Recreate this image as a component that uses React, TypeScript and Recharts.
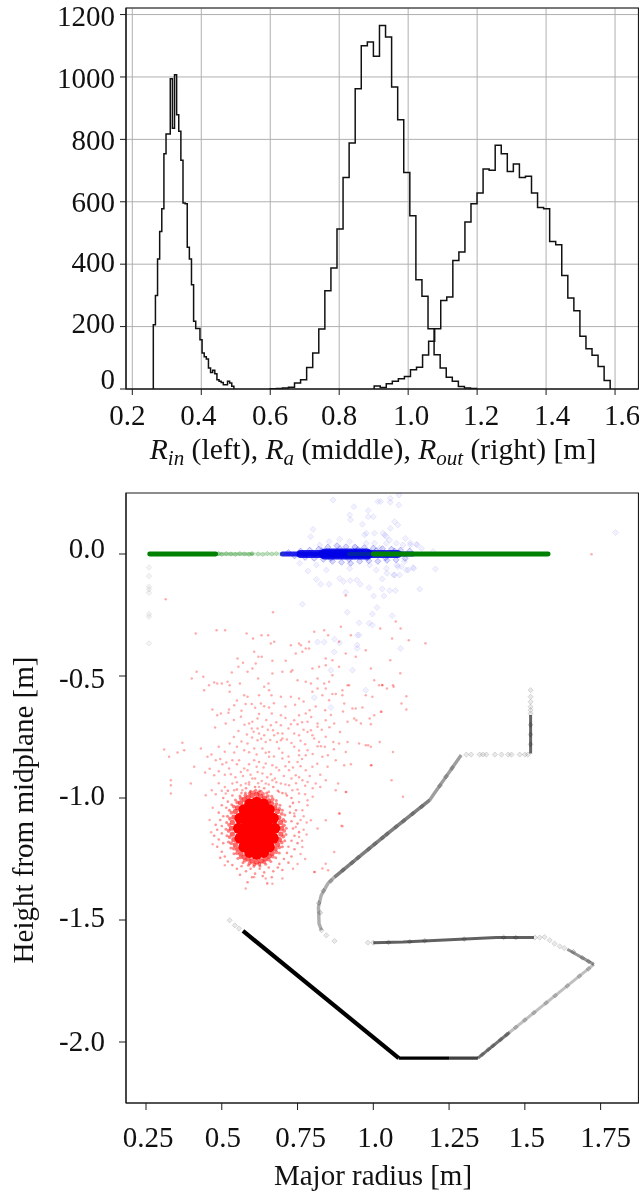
import React from "react";
import {
  CartesianGrid,
  Label,
  Line,
  LineChart,
  ReferenceArea,
  Scatter,
  ScatterChart,
  XAxis,
  YAxis,
} from "recharts";

type Pair = [number, number];

// ─── Histogram data (counts) ──────────────────────────────────────────────────

const rinStart = 0.2609;
const rinBin = 0.00615;
const rinCounts = [
  206, 300, 417, 505, 578, 754, 817, 817, 994, 836, 1007, 879, 826, 733, 596, 594, 454, 417, 334,
  217, 194, 194, 158, 115, 103, 96, 67, 53, 60, 49, 30, 25, 21, 14, 14, 25, 19, 9,
];

const raStart = 0.6;
const raBin = 0.0176;
const raCounts = [
  1, 2, 3, 6, 19, 30, 69, 115, 192, 315, 388, 513, 678, 788, 962, 1100, 1112, 1066, 1165, 1128, 968,
  863, 694, 555, 350, 297, 193, 110, 67, 38, 25, 8, 3, 2,
];

const routStart = 0.9014;
const routBin = 0.01755;
const routCounts = [
  10, 5, 17, 25, 33, 40, 62, 70, 109, 153, 193, 284, 295, 412, 439, 535, 594, 628, 705, 701, 781,
  754, 697, 721, 678, 682, 628, 582, 578, 473, 462, 364, 292, 251, 169, 129, 108, 72, 27,
];

const histXTicks = [0.2, 0.4, 0.6, 0.8, 1.0, 1.2, 1.4, 1.6];
const histYTicks = [0, 200, 400, 600, 800, 1000, 1200];

// ─── Scatter data (major radius, height) ──────────────────────────────────────

const redSparse: Pair[] = [
  [0.414, -0.326], [0.483, -0.312], [0.511, -0.312], [0.582, -0.326], [0.603, -0.346], [0.631, -0.333],
  [0.653, -0.333], [0.662, -0.367], [0.673, -0.36], [0.728, -0.374], [0.755, -0.367], [0.761, -0.374],
  [0.788, -0.36], [0.805, -0.319], [0.838, -0.312], [0.851, -0.333], [0.893, -0.298], [0.887, -0.36],
  [0.926, -0.333], [0.777, -0.387], [0.788, -0.387], [0.766, -0.401], [0.744, -0.408], [0.607, -0.401],
  [0.621, -0.421], [0.632, -0.421], [0.552, -0.428], [0.57, -0.446], [0.612, -0.449], [0.667, -0.438],
  [0.711, -0.438], [0.843, -0.428], [0.865, -0.435], [0.909, -0.408], [0.942, -0.421], [0.975, -0.394],
  [0.992, -0.469], [0.417, -0.483], [0.401, -0.51], [0.439, -0.503], [0.533, -0.486], [0.555, -0.462],
  [0.585, -0.483], [0.601, -0.469], [0.62, -0.51], [0.667, -0.49], [0.7, -0.483], [0.728, -0.483],
  [0.733, -0.476], [0.75, -0.517], [0.799, -0.469], [0.821, -0.462], [0.843, -0.456], [0.865, -0.497],
  [0.887, -0.462], [0.816, -0.51], [0.838, -0.531], [0.854, -0.524], [1.003, -0.517], [0.915, -0.538],
  [0.475, -0.527], [0.485, -0.531], [0.5, -0.531], [0.519, -0.524], [0.526, -0.538], [0.56, -0.531],
  [0.654, -0.531], [0.64, -0.544], [0.777, -0.524], [0.794, -0.531], [0.442, -0.558], [0.458, -0.538],
  [0.526, -0.565], [0.574, -0.579], [0.585, -0.585], [0.623, -0.579], [0.656, -0.558], [0.664, -0.579],
  [0.695, -0.585], [0.728, -0.585], [0.755, -0.592], [0.816, -0.551], [0.799, -0.565], [0.832, -0.579],
  [0.854, -0.599], [0.865, -0.574], [0.876, -0.574], [0.898, -0.579], [0.904, -0.613], [0.92, -0.538],
  [0.975, -0.579], [0.997, -0.585], [1.019, -0.538], [1.03, -0.538], [0.579, -0.615], [0.599, -0.615],
  [0.629, -0.613], [0.64, -0.624], [0.656, -0.629], [0.898, -0.558], [0.843, -0.551], [0.469, -0.637],
  [0.524, -0.637], [0.541, -0.62], [0.485, -0.661], [0.497, -0.654], [0.522, -0.651], [0.563, -0.667],
  [0.623, -0.656], [0.665, -0.654], [0.695, -0.661], [0.755, -0.661], [0.777, -0.654], [0.739, -0.681],
  [0.841, -0.64], [0.931, -0.633], [0.942, -0.633], [0.964, -0.629], [1.003, -0.661], [1.025, -0.647],
  [0.937, -0.674], [0.618, -0.674], [0.601, -0.688], [0.59, -0.695], [0.513, -0.695], [0.728, -0.698],
  [0.75, -0.698], [0.783, -0.688], [0.816, -0.695], [0.843, -0.681], [0.871, -0.695], [0.915, -0.688],
  [0.959, -0.695], [0.992, -0.698], [0.478, -0.711], [0.599, -0.715], [0.618, -0.715], [0.634, -0.708],
  [0.662, -0.702], [0.695, -0.702], [0.669, -0.722], [0.623, -0.736], [0.64, -0.743], [0.673, -0.743],
  [0.7, -0.736], [0.7, -0.756], [0.695, -0.763], [0.739, -0.736], [0.755, -0.743], [0.783, -0.729],
  [0.794, -0.722], [0.816, -0.708], [0.799, -0.743], [0.805, -0.756], [0.821, -0.77], [0.843, -0.749],
  [0.868, -0.77], [0.887, -0.777], [0.915, -0.77], [0.909, -0.811], [0.953, -0.777], [0.975, -0.784],
  [0.992, -0.79], [0.645, -0.77], [0.618, -0.763], [0.585, -0.777], [0.526, -0.777], [0.37, -0.774],
  [0.31, -0.801], [0.376, -0.804], [0.354, -0.814], [0.431, -0.797], [0.326, -0.831], [0.466, -0.822],
  [0.453, -0.831], [0.541, -0.814], [0.574, -0.804], [0.607, -0.797], [0.634, -0.797], [0.656, -0.811],
  [0.689, -0.797], [0.739, -0.79], [0.783, -0.804], [0.816, -0.788], [0.827, -0.788], [0.409, -0.872],
  [0.445, -0.896], [0.48, -0.845], [0.502, -0.862], [0.535, -0.845], [0.524, -0.879], [0.557, -0.845],
  [0.574, -0.879], [0.585, -0.886], [0.563, -0.893], [0.607, -0.845], [0.623, -0.852], [0.645, -0.859],
  [0.656, -0.831], [0.667, -0.866], [0.7, -0.838], [0.722, -0.852], [0.75, -0.852], [0.777, -0.825],
  [0.799, -0.872], [0.832, -0.831], [0.849, -0.872], [0.876, -0.845], [0.904, -0.866], [0.926, -0.862],
  [0.992, -0.866], [0.475, -0.907], [0.53, -0.903], [0.618, -0.893], [0.634, -0.9], [0.662, -0.903],
  [0.689, -0.886], [0.722, -0.886], [0.744, -0.907], [0.777, -0.886], [0.755, -0.825], [0.332, -0.927],
  [0.332, -0.948], [0.332, -0.982], [0.398, -0.941], [0.447, -0.989], [0.467, -0.968], [0.535, -0.941],
  [0.563, -0.948], [0.579, -0.941], [0.601, -0.92], [0.623, -0.955], [0.645, -0.941], [0.667, -0.927],
  [0.695, -0.941], [0.722, -0.948], [0.766, -0.927], [0.783, -0.934], [0.81, -0.941], [0.843, -0.927],
  [0.876, -0.968], [0.909, -0.975], [0.733, -0.968], [0.755, -0.982], [0.513, -0.982], [0.541, -0.968],
  [0.568, -0.968], [0.689, -0.975], [0.711, -0.982], [0.755, -1.016], [0.783, -1.009], [0.766, -1.05],
  [0.739, -1.064], [0.794, -1.091], [0.843, -1.091], [0.887, -1.064], [0.898, -1.116], [0.816, -1.125],
  [0.783, -1.03], [0.871, -1.221], [0.843, -1.269], [0.805, -1.303], [0.832, -1.289], [0.766, -1.201],
  [0.755, -1.16], [0.744, -1.119], [0.579, -1.371], [0.645, -1.33], [0.7, -1.33], [0.51, -1.276],
  [0.607, -1.324], [0.667, -1.351], [0.315, -0.185], [0.909, -0.17], [0.669, -0.239], [1.074, -0.277],
  [1.023, -0.305], [1.09, -0.305], [1.72, -0.001], [1.062, -0.346], [1.117, -0.353], [1.172, -0.366],
  [1.056, -0.435], [1.089, -0.489], [1.029, -0.537], [1.045, -0.551], [1.067, -0.544], [1.109, -0.583],
  [1.093, -0.613], [1.109, -0.637], [1.065, -0.538], [1.027, -0.647], [0.988, -0.674], [0.944, -0.681],
  [0.983, -0.784], [1.021, -0.77], [1.065, -0.811], [0.994, -0.866], [0.884, -0.941], [0.911, -0.975],
  [1.098, -0.995], [1.06, -0.927], [0.895, -1.114], [0.889, -1.064], [0.851, -1.296], [0.807, -1.303],
];

// the busier zone straight above the blob
const redMiddle: Pair[] = [
  [0.55, -0.6], [0.565, -0.642], [0.61, -0.63], [0.672, -0.612], [0.71, -0.625], [0.742, -0.618],
  [0.77, -0.605], [0.79, -0.64], [0.81, -0.625], [0.54, -0.68], [0.575, -0.7], [0.647, -0.68],
  [0.68, -0.69], [0.71, -0.672], [0.765, -0.69], [0.795, -0.668], [0.86, -0.66], [0.9, -0.645],
  [0.555, -0.725], [0.583, -0.74], [0.605, -0.728], [0.652, -0.72], [0.685, -0.735], [0.72, -0.715],
  [0.77, -0.72], [0.83, -0.72], [0.855, -0.71], [0.89, -0.73], [0.54, -0.75], [0.565, -0.768],
  [0.6, -0.752], [0.63, -0.757], [0.66, -0.762], [0.682, -0.77], [0.715, -0.76], [0.73, -0.775],
  [0.76, -0.765], [0.775, -0.78], [0.84, -0.79], [0.87, -0.8], [0.49, -0.79], [0.51, -0.81],
  [0.55, -0.79], [0.59, -0.812], [0.615, -0.822], [0.645, -0.815], [0.672, -0.83], [0.7, -0.815],
  [0.72, -0.83], [0.755, -0.805], [0.765, -0.84], [0.8, -0.82], [0.85, -0.825], [0.495, -0.84],
  [0.515, -0.855], [0.55, -0.862], [0.59, -0.862], [0.615, -0.872], [0.638, -0.875], [0.68, -0.875],
  [0.71, -0.87], [0.735, -0.875], [0.76, -0.87], [0.815, -0.86], [0.46, -0.88], [0.49, -0.89],
  [0.51, -0.905], [0.545, -0.915], [0.57, -0.91], [0.595, -0.905], [0.61, -0.92], [0.65, -0.915],
  [0.675, -0.92], [0.705, -0.91], [0.73, -0.92], [0.755, -0.915], [0.79, -0.91], [0.825, -0.905],
  [0.49, -0.94], [0.51, -0.955], [0.55, -0.935], [0.59, -0.945], [0.632, -0.93], [0.655, -0.945],
  [0.71, -0.945], [0.745, -0.94], [0.775, -0.95], [0.8, -0.96], [0.825, -0.955], [0.48, -0.985],
  [0.5, -0.97], [0.59, -0.935], [0.62, -0.94], [0.68, -0.935], [0.75, -0.965], [0.775, -0.985],
  [0.8, -0.995], [0.77, -1.075], [0.78, -1.1], [0.76, -1.09], [0.77, -1.13], [0.765, -1.175],
  [0.78, -1.15], [0.76, -1.23], [0.775, -1.25], [0.75, -1.27], [0.735, -1.29], [0.47, -1.04],
  [0.46, -1.09], [0.465, -1.14], [0.47, -1.19],
];

const redHalo: Pair[] = [
  [0.52, -0.97], [0.535, -0.99], [0.55, -0.965], [0.565, -0.98], [0.58, -0.96], [0.595, -0.975],
  [0.61, -0.955], [0.625, -0.97], [0.64, -0.96], [0.655, -0.975], [0.67, -0.955], [0.685, -0.97],
  [0.7, -0.98], [0.715, -0.99], [0.73, -1.0], [0.505, -1.0], [0.52, -1.015], [0.5, -1.03],
  [0.515, -1.04], [0.735, -1.02], [0.725, -1.035], [0.745, -1.05], [0.49, -1.06], [0.505, -1.075],
  [0.495, -1.09], [0.48, -1.11], [0.5, -1.115], [0.485, -1.13], [0.5, -1.145], [0.475, -1.155],
  [0.49, -1.17], [0.505, -1.185], [0.485, -1.2], [0.5, -1.22], [0.51, -1.24], [0.495, -1.245],
  [0.52, -1.26], [0.725, -1.06], [0.74, -1.075], [0.73, -1.095], [0.75, -1.105], [0.735, -1.125],
  [0.755, -1.14], [0.74, -1.155], [0.73, -1.175], [0.75, -1.185], [0.72, -1.2], [0.74, -1.21],
  [0.715, -1.225], [0.73, -1.24], [0.705, -1.25], [0.72, -1.265], [0.69, -1.27], [0.535, -1.275],
  [0.55, -1.29], [0.565, -1.28], [0.58, -1.3], [0.595, -1.29], [0.61, -1.31], [0.625, -1.29],
  [0.64, -1.305], [0.655, -1.285], [0.67, -1.3], [0.685, -1.285], [0.7, -1.295], [0.56, -1.315],
  [0.6, -1.325], [0.635, -1.32], [0.665, -1.325], [0.585, -1.345], [0.65, -1.35],
];

const redRingOuter: Pair[] = [
  [0.713, -1.124], [0.71, -1.096], [0.708, -1.07], [0.7, -1.05], [0.692, -1.03], [0.68, -1.01],
  [0.665, -0.993], [0.648, -0.98], [0.63, -0.972], [0.612, -0.968], [0.595, -0.972], [0.578, -0.98],
  [0.56, -0.992], [0.545, -1.008], [0.533, -1.028], [0.525, -1.05], [0.519, -1.075], [0.516, -1.1],
  [0.514, -1.128], [0.517, -1.155], [0.522, -1.18], [0.53, -1.205], [0.54, -1.228], [0.553, -1.248],
  [0.57, -1.265], [0.588, -1.276], [0.606, -1.28], [0.626, -1.279], [0.645, -1.272], [0.662, -1.26],
  [0.678, -1.245], [0.69, -1.225], [0.7, -1.2], [0.708, -1.175], [0.712, -1.15],
];

const redRingMiddle: Pair[] = [
  [0.705, -1.112], [0.703, -1.09], [0.698, -1.065], [0.69, -1.045], [0.68, -1.025], [0.668, -1.005],
  [0.652, -0.992], [0.636, -0.983], [0.622, -0.978], [0.606, -0.976], [0.592, -0.982], [0.578, -0.99],
  [0.563, -1.002], [0.551, -1.018], [0.54, -1.035], [0.532, -1.06], [0.527, -1.085], [0.524, -1.11],
  [0.523, -1.135], [0.526, -1.16], [0.531, -1.185], [0.54, -1.207], [0.55, -1.226], [0.562, -1.243],
  [0.576, -1.257], [0.592, -1.267], [0.608, -1.272], [0.624, -1.27], [0.64, -1.263], [0.655, -1.252],
  [0.668, -1.24], [0.68, -1.222], [0.69, -1.202], [0.698, -1.182], [0.703, -1.158], [0.706, -1.135],
];

const redRingInner: Pair[] = [
  [0.697, -1.124], [0.694, -1.1], [0.688, -1.08], [0.684, -1.055], [0.675, -1.04], [0.664, -1.022],
  [0.655, -1.012], [0.641, -1.0], [0.628, -0.992], [0.615, -0.985], [0.6, -0.99], [0.587, -0.998],
  [0.574, -1.006], [0.562, -1.02], [0.552, -1.04], [0.545, -1.055], [0.54, -1.078], [0.535, -1.1],
  [0.532, -1.124], [0.535, -1.148], [0.54, -1.17], [0.545, -1.192], [0.553, -1.21], [0.563, -1.228],
  [0.574, -1.242], [0.587, -1.25], [0.6, -1.258], [0.615, -1.262], [0.63, -1.258], [0.643, -1.25],
  [0.656, -1.238], [0.666, -1.226], [0.676, -1.208], [0.684, -1.19], [0.69, -1.17], [0.695, -1.148],
];

const redCoreRim: Pair[] = [
  [0.675, -1.124], [0.67, -1.083], [0.657, -1.048], [0.638, -1.025], [0.615, -1.017], [0.592, -1.025],
  [0.573, -1.048], [0.56, -1.083], [0.555, -1.124], [0.56, -1.165], [0.573, -1.2], [0.592, -1.223],
  [0.615, -1.231], [0.638, -1.223], [0.657, -1.2], [0.67, -1.165],
];

const redCore: Pair[] = [
  [0.615, -1.05], [0.59, -1.08], [0.615, -1.08], [0.64, -1.08], [0.59, -1.11], [0.615, -1.11],
  [0.64, -1.11], [0.59, -1.14], [0.615, -1.14], [0.64, -1.14], [0.59, -1.17], [0.615, -1.17],
  [0.64, -1.17], [0.615, -1.2],
];

const blueSparse: Pair[] = [
  [0.867, 0.221], [0.936, 0.194], [1.015, 0.215], [1.024, 0.215], [1.056, 0.228], [1.056, 0.212],
  [1.084, 0.201], [1.085, 0.242], [0.922, 0.16], [0.925, 0.14], [0.983, 0.178], [0.983, 0.153],
  [1.0, 0.153], [0.964, 0.122], [1.07, 0.133], [1.081, 0.119], [1.056, 0.105], [0.977, 0.085],
  [0.971, 0.078], [1.004, 0.085], [1.032, 0.085], [1.043, 0.071], [1.106, 0.064], [0.801, 0.101],
  [0.793, 0.071], [0.823, 0.037], [0.854, 0.051], [0.889, 0.06], [0.922, 0.051], [1.004, 0.044],
  [1.076, 0.044], [1.098, 0.037], [1.122, 0.037], [1.145, 0.037], [0.784, -0.07], [0.812, -0.104],
  [0.826, -0.124], [0.854, -0.124], [0.889, -0.1], [0.902, -0.113], [0.924, -0.109], [0.946, -0.107],
  [0.957, -0.124], [0.986, -0.138], [1.029, -0.143], [1.054, -0.15], [1.073, -0.15], [1.035, -0.172],
  [1.001, -0.172], [0.909, -0.157], [0.766, -0.206], [0.914, -0.239], [1.012, -0.219], [0.997, -0.246],
  [1.062, -0.253], [0.953, -0.282], [0.986, -0.284], [0.997, -0.291], [0.953, -0.332], [0.816, -0.361],
  [0.838, -0.361], [0.947, -0.373], [0.947, -0.387], [1.09, -0.387], [0.872, -0.349], [0.889, -0.364],
  [1.07, -0.086], [1.109, -0.066], [1.133, -0.059], [0.757, -0.038], [0.812, -0.045], [0.845, -0.066],
  [0.922, -0.059], [0.988, -0.045], [1.01, -0.066], [1.043, -0.059], [1.081, -0.052], [1.103, -0.031],
  [1.043, 0.044], [1.021, 0.023], [0.977, 0.044], [0.938, 0.03], [1.038, 0.078], [1.054, 0.057],
  [1.122, 0.046], [1.142, 0.04], [1.159, 0.023], [1.197, 0.01], [1.205, -0.061], [1.153, -0.144],
  [1.799, 0.088], [1.131, -0.055], [1.115, -0.066], [1.087, -0.086], [1.067, -0.086], [1.045, -0.079],
  [1.029, -0.102], [1.078, -0.045], [1.093, -0.052], [0.947, -0.333], [0.871, -0.401], [0.86, -0.476],
  [0.931, -0.476], [0.975, -0.558], [0.805, -0.589], [0.86, -0.629],
];

const blueFringe: Pair[] = [
  [0.72, 0.006], [0.74, -0.008], [0.76, 0.012], [0.775, -0.014], [0.79, 0.016], [0.805, -0.018],
  [0.82, 0.02], [0.835, -0.022], [0.85, 0.028], [0.865, -0.03], [0.88, 0.034], [0.895, -0.034],
  [0.91, 0.03], [0.925, -0.038], [0.94, 0.028], [0.955, -0.03], [0.97, 0.026], [0.985, -0.028],
  [1.0, 0.024], [1.015, -0.03], [1.03, 0.022], [1.045, -0.026], [1.06, 0.02], [1.075, -0.024],
  [1.09, 0.016], [1.105, -0.018], [1.12, 0.012], [0.83, 0.014], [0.86, -0.018], [0.89, 0.022],
  [0.92, -0.022], [0.95, 0.018], [0.98, -0.016], [1.01, 0.014], [1.04, -0.016], [1.07, 0.012],
];

const blueBandOuter: Pair[] = [[0.7, 0], [1.13, 0]];
const blueBandMiddle: Pair[] = [[0.76, 0], [1.08, 0]];
const blueBandInner: Pair[] = [[0.84, 0], [0.98, 0]];

const greenLeft: Pair[] = [[0.262, 0], [0.48, 0]];
const greenFaintLeft: Pair[] = [[0.48, 0], [0.6, 0]];
const greenFaintRight: Pair[] = [[0.6, 0], [0.7, 0]];
const greenOverBlue: Pair[] = [[0.92, 0], [1.0, 0]];
const greenRight: Pair[] = [[1.0, 0], [1.577, 0]];
const greenDots: Pair[] = [
  [0.49, 0.002], [0.5, -0.002], [0.515, 0.002], [0.53, 0], [0.545, -0.002], [0.56, 0.002], [0.575, 0],
  [0.59, -0.002], [0.6, 0.002], [0.62, 0], [0.635, -0.002], [0.65, 0.002], [0.665, 0], [0.68, 0.002],
];

const grayColumn: Pair[] = [
  [0.26, -0.055], [0.26, -0.09], [0.26, -0.134], [0.26, -0.145], [0.26, -0.159], [0.26, -0.246],
  [0.26, -0.257], [0.26, -0.366],
];

const wallOuter: Pair[] = [[0.57, -1.545], [1.084, -2.066]];
const wallFloor: Pair[] = [[1.084, -2.066], [1.25, -2.066]];
const wallFloorEnd: Pair[] = [[1.25, -2.066], [1.345, -2.066]];
const wallRiseLow: Pair[] = [[1.345, -2.066], [1.45, -1.96]];
const wallRiseHigh: Pair[] = [[1.45, -1.96], [1.728, -1.682]];
const wallNose: Pair[] = [[1.728, -1.682], [1.64, -1.62]];
const wallShelf: Pair[] = [[1.0, -1.593], [1.098, -1.59], [1.252, -1.581], [1.406, -1.572], [1.53, -1.572]];
const wallCurve: Pair[] = [[0.829, -1.542], [0.821, -1.515], [0.819, -1.447], [0.828, -1.399], [0.85, -1.351], [0.872, -1.324]];
const wallBaffle: Pair[] = [[0.872, -1.324], [0.966, -1.228], [1.054, -1.139], [1.186, -1.009]];
const wallBaffleTop: Pair[] = [[1.186, -1.009], [1.197, -0.989], [1.29, -0.824]];
const wallPost: Pair[] = [[1.519, -0.818], [1.519, -0.66]];
const wallSpecks: Pair[] = [
  [1.307, -0.822], [1.323, -0.822], [1.351, -0.822], [1.362, -0.822], [1.373, -0.822], [1.401, -0.822],
  [1.423, -0.822], [1.445, -0.822], [1.456, -0.822], [1.483, -0.822], [1.5, -0.822], [1.51, -0.822],
  [1.519, -0.558], [1.519, -0.585], [1.519, -0.606], [1.519, -0.626], [1.519, -0.64], [1.519, -0.654],
  [0.526, -1.501], [0.543, -1.522], [0.557, -1.535], [0.872, -1.586], [0.845, -1.563], [0.829, -1.542],
  [0.982, -1.593], [1.0, -1.593], [1.533, -1.572], [1.549, -1.572], [1.565, -1.57], [1.582, -1.583],
  [1.598, -1.597], [1.615, -1.608], [1.63, -1.615],
];
const wallMottle: Pair[] = [
  [0.9, -1.295], [0.93, -1.265], [0.95, -1.244], [0.985, -1.209], [1.005, -1.188], [1.03, -1.163],
  [1.045, -1.148], [1.075, -1.118], [1.1, -1.094], [1.13, -1.064], [1.16, -1.035], [1.36, -2.051],
  [1.38, -2.03], [1.395, -2.015], [1.42, -1.99], [1.44, -1.97], [1.47, -1.94], [1.5, -1.91],
  [1.53, -1.88], [1.57, -1.84], [1.6, -1.81], [1.64, -1.77], [1.68, -1.73], [1.71, -1.7],
  [1.22, -0.95], [1.24, -0.912], [1.26, -0.877], [0.825, -1.47], [0.82, -1.43], [0.835, -1.38],
  [0.86, -1.34], [1.519, -0.7], [1.519, -0.74], [1.519, -0.78], [1.05, -1.592], [1.12, -1.589],
  [1.17, -1.585], [1.3, -1.578], [1.43, -1.571], [1.47, -1.572], [1.66, -1.63], [1.69, -1.655],
  [1.71, -1.67],
];

const majorTicks = [0.25, 0.5, 0.75, 1.0, 1.25, 1.5, 1.75];
const heightTicks = [0, -0.5, -1.0, -1.5, -2.0];

// ─── Helpers ──────────────────────────────────────────────────────────────────

const FONT = '"Liberation Serif", "Times New Roman", serif';
const INK = "#1a1a1a";
const TEXT_SIZE = 29;

function histogramSteps(start: number, bin: number, counts: number[]) {
  const steps = [{ x: start, y: 0 }];
  counts.forEach((c, i) => steps.push({ x: start + i * bin, y: c }));
  steps.push({ x: start + counts.length * bin, y: counts[counts.length - 1] });
  steps.push({ x: start + counts.length * bin, y: 0 });
  return steps;
}

const toPoints = (pairs: Pair[]) => pairs.map(([x, y]) => ({ x, y }));

const dot = (r: number, fill: string, opacity: number) => (p: any) =>
  <circle cx={p.cx} cy={p.cy} r={r} fill={fill} fillOpacity={opacity} />;

const diamond = (r: number, color: string, opacity: number) => (p: any) =>
  (
    <path
      d={`M${p.cx} ${p.cy - r}L${p.cx + r} ${p.cy}L${p.cx} ${p.cy + r}L${p.cx - r} ${p.cy}Z`}
      fill={color}
      fillOpacity={opacity * 0.5}
      stroke={color}
      strokeOpacity={opacity}
      strokeWidth={0.8}
    />
  );

const noMark = () => <g />;

const tickText = (v: number) => (Number.isInteger(Math.round(v * 1000) / 100) ? v.toFixed(1) : v.toFixed(2));

// the labels sit a little off their ticks in the reference
function xTick(shift: number[], dy: number) {
  return (p: any) => (
    <text x={p.x + (shift[p.index] ?? 0)} y={p.y + dy} textAnchor="middle" fontFamily={FONT} fontSize={TEXT_SIZE} fill="#111">
      {tickText(p.payload.value)}
    </text>
  );
}

function yTick(right: number, shift: number[], format: (v: number) => string) {
  return (p: any) => (
    <text x={right} y={p.y + (shift[p.index] ?? 0)} textAnchor="end" fontFamily={FONT} fontSize={TEXT_SIZE} fill="#111">
      {format(p.payload.value)}
    </text>
  );
}

function HistTitle() {
  return (
    <text x={373} y={459} textAnchor="middle" fontFamily={FONT} fontSize={29.6} fill="#111">
      <tspan fontStyle="italic">R</tspan>
      <tspan fontStyle="italic" fontSize={21} dy={6}>in</tspan>
      <tspan dy={-6}> (left), </tspan>
      <tspan fontStyle="italic">R</tspan>
      <tspan fontStyle="italic" fontSize={21} dy={6}>a</tspan>
      <tspan dy={-6}> (middle), </tspan>
      <tspan fontStyle="italic">R</tspan>
      <tspan fontStyle="italic" fontSize={21} dy={6}>out</tspan>
      <tspan dy={-6}> (right) [m]</tspan>
    </text>
  );
}

function MajorTitle() {
  return (
    <text x={373} y={715} textAnchor="middle" fontFamily={FONT} fontSize={TEXT_SIZE} fill="#111">
      Major radius [m]
    </text>
  );
}

function HeightTitle() {
  return (
    <text
      x={33}
      y={340}
      textAnchor="middle"
      transform="rotate(-90 33 340)"
      fontFamily={FONT}
      fontSize={TEXT_SIZE}
      fill="#111"
    >
      Height from midplane [m]
    </text>
  );
}

// ─── Main ─────────────────────────────────────────────────────────────────────

export default function App() {
  const wall = (data: Pair[], width: number, opacity: number, key: string) => (
    <Scatter
      key={key}
      data={toPoints(data)}
      isAnimationActive={false}
      shape={noMark}
      line={{ stroke: "#000", strokeWidth: width, strokeOpacity: opacity }}
    />
  );
  const band = (data: Pair[], color: string, width: number, opacity: number, key: string) => (
    <Scatter
      key={key}
      data={toPoints(data)}
      isAnimationActive={false}
      shape={noMark}
      line={{ stroke: color, strokeWidth: width, strokeOpacity: opacity, strokeLinecap: "round" }}
    />
  );

  return (
    <div style={{ position: "absolute", left: 0, top: 0, width: 639, height: 1193, background: "#fff", filter: "blur(0.35px)" }}>
      <div style={{ position: "absolute", left: 0, top: 0 }}>
        <LineChart width={639} height={470} margin={{ top: 8, right: 0.5, bottom: 0, left: 0 }}>
          <CartesianGrid stroke="#b0b0b0" strokeWidth={1} />
          <XAxis
            type="number"
            dataKey="x"
            domain={[0.1817, 1.668]}
            ticks={histXTicks}
            height={81}
            tickSize={6}
            stroke={INK}
            allowDataOverflow
            tick={xTick([-5, -3, 0, 0, 3, 4, 6, 7], 28)}
          >
            <Label content={HistTitle} />
          </XAxis>
          <YAxis
            type="number"
            dataKey="y"
            domain={[0, 1221]}
            ticks={histYTicks}
            width={126}
            tickSize={6}
            stroke={INK}
            allowDataOverflow
            tick={yTick(115, [0, 6, 7.5, 10, 10.3, 10.7, 11.7], (v) => String(v))}
          />
          <Line data={histogramSteps(rinStart, rinBin, rinCounts)} dataKey="y" type="stepAfter" stroke="#111" strokeWidth={1.5} dot={false} isAnimationActive={false} />
          <Line data={histogramSteps(raStart, raBin, raCounts)} dataKey="y" type="stepAfter" stroke="#111" strokeWidth={1.5} dot={false} isAnimationActive={false} />
          <Line data={histogramSteps(routStart, routBin, routCounts)} dataKey="y" type="stepAfter" stroke="#111" strokeWidth={1.5} dot={false} isAnimationActive={false} />
          <ReferenceArea x1={0.1817} x2={1.668} y1={0} y2={1221} fill="none" stroke={INK} strokeWidth={1.2} />
        </LineChart>
      </div>

      <div style={{ position: "absolute", left: 0, top: 470 }}>
        <ScatterChart width={639} height={723} margin={{ top: 23, right: 0.5, bottom: 0, left: 0 }}>
          <XAxis
            type="number"
            dataKey="x"
            domain={[0.184, 1.875]}
            ticks={majorTicks}
            height={90}
            tickSize={7}
            stroke={INK}
            allowDataOverflow
            tick={xTick([2, 1, 3, 2, 5, 2, 5], 35)}
          >
            <Label content={MajorTitle} />
          </XAxis>
          <YAxis
            type="number"
            dataKey="y"
            domain={[-2.25, 0.25]}
            ticks={heightTicks}
            width={126}
            tickSize={7}
            stroke={INK}
            allowDataOverflow
            tick={yTick(105, [4, 12, 7, 6.7, 9], (v) => v.toFixed(1))}
          >
            <Label content={HeightTitle} />
          </YAxis>

          <Scatter data={toPoints(grayColumn)} shape={diamond(2.8, "#777", 0.16)} isAnimationActive={false} />
          {wall(wallOuter, 4.2, 1, "outer")}
          {wall(wallFloor, 3.4, 1, "floor")}
          {wall(wallFloorEnd, 3.2, 0.75, "floor-end")}
          {wall(wallRiseLow, 3, 0.55, "rise-low")}
          {wall(wallRiseHigh, 3, 0.25, "rise-high")}
          {wall(wallNose, 3, 0.42, "nose")}
          {wall(wallShelf, 3, 0.62, "shelf")}
          {wall(wallCurve, 3.4, 0.32, "curve")}
          {wall(wallBaffle, 3.6, 0.5, "baffle")}
          {wall(wallBaffleTop, 3.4, 0.38, "baffle-top")}
          {wall(wallPost, 3, 0.6, "post")}
          <Scatter data={toPoints(wallSpecks)} shape={diamond(2.6, "#333", 0.2)} isAnimationActive={false} />
          <Scatter data={toPoints(wallMottle)} shape={diamond(2.4, "#000", 0.22)} isAnimationActive={false} />

          <Scatter data={toPoints(redSparse)} shape={dot(1.25, "#ff0000", 0.33)} isAnimationActive={false} />
          <Scatter data={toPoints(redMiddle)} shape={dot(1.25, "#ff0000", 0.33)} isAnimationActive={false} />
          <Scatter data={toPoints(redHalo)} shape={dot(1.3, "#ff0000", 0.42)} isAnimationActive={false} />
          <Scatter data={toPoints(redRingOuter)} shape={dot(1.5, "#ff0000", 0.45)} isAnimationActive={false} />
          <Scatter data={toPoints(redRingMiddle)} shape={dot(1.9, "#ff0000", 0.5)} isAnimationActive={false} />
          <Scatter data={toPoints(redRingInner)} shape={dot(2.6, "#ff0000", 0.6)} isAnimationActive={false} />
          <Scatter data={toPoints(redCoreRim)} shape={dot(5.5, "#ff0000", 1)} isAnimationActive={false} />
          <Scatter data={toPoints(redCore)} shape={dot(8, "#ff0000", 1)} isAnimationActive={false} />

          <Scatter data={toPoints(blueSparse)} shape={diamond(3, "#0000e6", 0.1)} isAnimationActive={false} />
          <Scatter data={toPoints(blueFringe)} shape={diamond(3, "#0000e6", 0.3)} isAnimationActive={false} />
          {band(blueBandOuter, "#0000e6", 5, 0.85, "blue-outer")}
          {band(blueBandMiddle, "#0000e6", 8, 0.85, "blue-middle")}
          {band(blueBandInner, "#0000e6", 11, 0.9, "blue-inner")}

          {band(greenLeft, "#008000", 4.8, 1, "green-left")}
          {band(greenFaintLeft, "#008000", 3.6, 0.35, "green-faint-left")}
          {band(greenFaintRight, "#008000", 3.6, 0.15, "green-faint-right")}
          {band(greenOverBlue, "#006a20", 4, 0.35, "green-over-blue")}
          {band(greenRight, "#008000", 4.8, 1, "green-right")}
          <Scatter data={toPoints(greenDots)} shape={diamond(2.3, "#008000", 0.25)} isAnimationActive={false} />

          <ReferenceArea x1={0.184} x2={1.875} y1={-2.25} y2={0.25} fill="none" stroke={INK} strokeWidth={1.2} />
        </ScatterChart>
      </div>
    </div>
  );
}
